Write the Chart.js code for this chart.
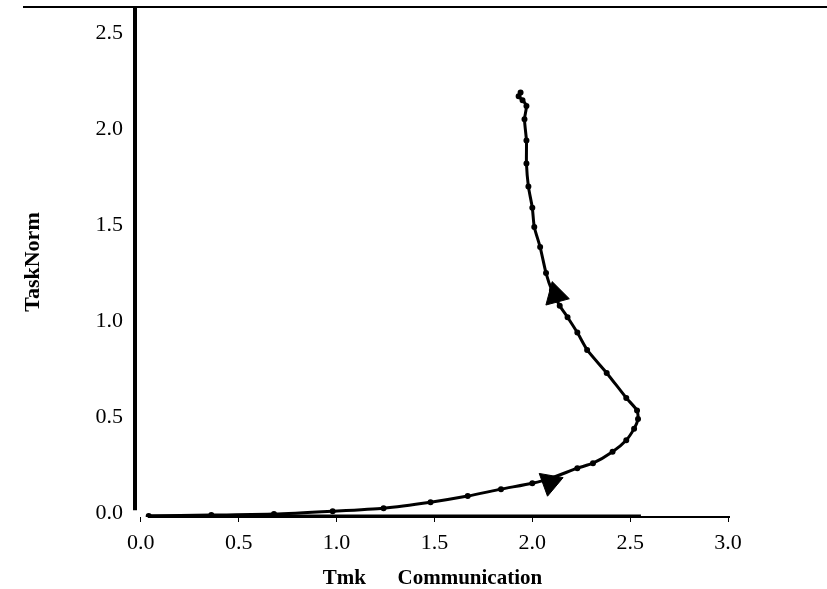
<!DOCTYPE html>
<html>
<head>
<meta charset="utf-8">
<script src="https://cdn.jsdelivr.net/npm/chart.js@4/dist/chart.umd.min.js"></script>
<style>
  html, body { margin: 0; padding: 0; background: #fff; }
  #wrap { width: 827px; height: 589px; }
</style>
</head>
<body>
<div id="wrap"><canvas id="phase" width="827" height="589"></canvas></div>
<script>
// trajectory in the (communication, task norm) plane
const commX = [0.04, 0.36, 0.68, 0.98, 1.24, 1.48, 1.67, 1.84, 2.00, 2.09, 2.23, 2.31, 2.41, 2.48, 2.52, 2.54, 2.535, 2.48, 2.38, 2.28, 2.23, 2.18, 2.14, 2.10, 2.07, 2.04, 2.01, 2.00, 1.98, 1.97, 1.97, 1.96, 1.97, 1.95, 1.93, 1.94];
const normY = [-0.015, -0.01, -0.005, 0.01, 0.026, 0.057, 0.089, 0.125, 0.156, 0.18, 0.234, 0.26, 0.32, 0.38, 0.44, 0.49, 0.535, 0.60, 0.73, 0.85, 0.94, 1.02, 1.08, 1.16, 1.25, 1.385, 1.49, 1.59, 1.70, 1.82, 1.94, 2.05, 2.12, 2.15, 2.17, 2.19];

// heavy segment lying on the x axis
const floorX = [0.035, 2.555];
const floorY = [-0.02, -0.02];

// direction arrows on the curve
const arrowX = [2.09, 2.12];
const arrowY = [0.16, 1.135];
const arrowRot = [190, 345];

const xTicks = [0, 0.5, 1.0, 1.5, 2.0, 2.5, 3.0];
const yTicks = [0, 0.5, 1.0, 1.5, 2.0, 2.5];

const toPts = (xs, ys) => xs.map((x, i) => ({ x: x, y: ys[i] }));

const axisLines = {
    id: 'axisLines',
    beforeDatasetsDraw(chart) {
        const { ctx, chartArea, scales } = chart;
        ctx.save();
        ctx.strokeStyle = '#000';
        ctx.lineCap = 'butt';
        ctx.lineWidth = 2;
        ctx.beginPath();
        ctx.moveTo(23, chartArea.top);
        ctx.lineTo(chart.width, chartArea.top);
        ctx.stroke();
        ctx.lineWidth = 4;
        ctx.beginPath();
        ctx.moveTo(chartArea.left, chartArea.top);
        ctx.lineTo(chartArea.left, scales.y.getPixelForValue(0.015));
        ctx.stroke();
        ctx.lineWidth = 2;
        ctx.beginPath();
        ctx.moveTo(scales.x.getPixelForValue(0.035), chartArea.bottom);
        ctx.lineTo(scales.x.getPixelForValue(3.01), chartArea.bottom);
        ctx.stroke();
        ctx.restore();
    }
};

const serif = '"Liberation Serif", "Times New Roman", serif';

new Chart(document.getElementById('phase'), {
    type: 'scatter',
    data: {
        datasets: [
            {
                data: toPts(floorX, floorY),
                showLine: true,
                borderColor: '#000',
                borderWidth: 5,
                pointRadius: 0
            },
            {
                data: toPts(commX, normY),
                showLine: true,
                tension: 0.2,
                borderColor: '#000',
                backgroundColor: '#000',
                borderWidth: 3,
                pointRadius: 1.5,
                pointStyle: 'circle'
            },
            {
                data: toPts(arrowX, arrowY),
                pointStyle: 'triangle',
                pointRadius: 14,
                pointRotation: arrowRot,
                backgroundColor: '#000',
                borderColor: '#000',
                borderWidth: 1
            }
        ]
    },
    options: {
        responsive: false,
        animation: false,
        layout: { autoPadding: false, padding: { left: 0, top: 7, right: 97, bottom: 0 } },
        plugins: { legend: { display: false }, tooltip: { enabled: false } },
        scales: {
            x: {
                type: 'linear',
                min: -0.03,
                max: 3.01,
                afterFit: s => { s.height = 72; s.paddingLeft = 0; s.paddingRight = 0; },
                afterBuildTicks: s => { s.ticks = xTicks.map(v => ({ value: v })); },
                grid: { drawOnChartArea: false, drawTicks: true, tickLength: 5, color: '#000', lineWidth: 1 },
                border: { display: false },
                ticks: {
                    color: '#000',
                    padding: 8,
                    maxRotation: 0,
                    font: { family: serif, size: 22 },
                    callback: v => Number(v).toFixed(1)
                },
                title: {
                    display: true,
                    text: 'Tmk      Communication',
                    color: '#000',
                    font: { family: serif, size: 21, weight: 'bold', lineHeight: 1 },
                    padding: { top: 0, bottom: 0 }
                }
            },
            y: {
                type: 'linear',
                min: -0.02,
                max: 2.635,
                afterFit: s => { s.width = 135; s.paddingTop = 0; s.paddingBottom = 0; },
                afterBuildTicks: s => { s.ticks = yTicks.map(v => ({ value: v })); },
                grid: { display: false, drawTicks: false },
                border: { display: false },
                ticks: {
                    color: '#000',
                    padding: 12,
                    font: { family: serif, size: 22 },
                    callback: v => Number(v).toFixed(1)
                },
                title: {
                    display: true,
                    text: 'TaskNorm',
                    color: '#000',
                    font: { family: serif, size: 22, weight: 'bold', lineHeight: 1 },
                    padding: { top: 22, bottom: 0 }
                }
            }
        }
    },
    plugins: [axisLines]
});
</script>
</body>
</html>
